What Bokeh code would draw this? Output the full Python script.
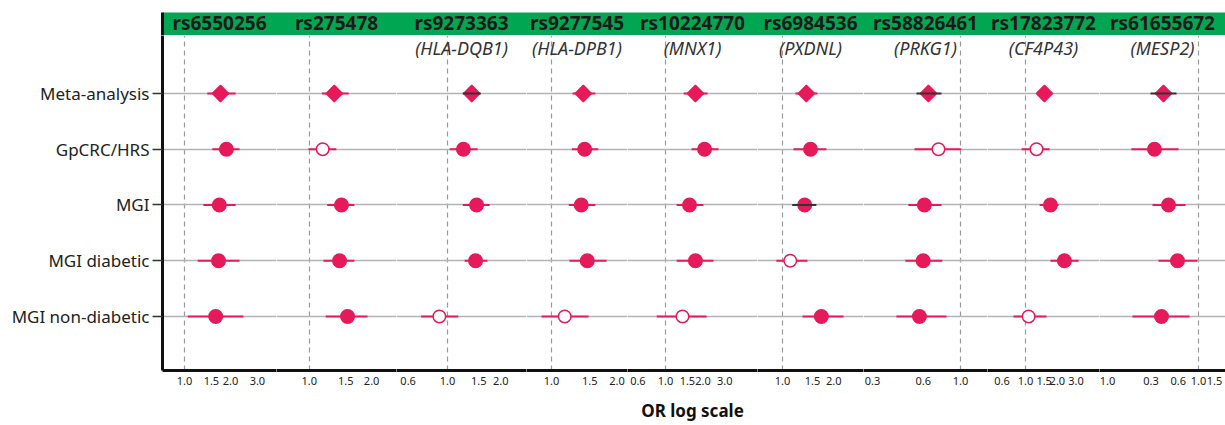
import math
from bokeh.plotting import figure
from bokeh.layouts import row, column
from bokeh.models import (ColumnDataSource, FixedTicker, PrintfTickFormatter,
                          Label, Range1d)
from bokeh.embed import file_html
from bokeh.resources import INLINE

# ---------------- data ----------------
snps = ["rs6550256", "rs275478", "rs9273363", "rs9277545", "rs10224770",
        "rs6984536", "rs58826461", "rs17823772", "rs61655672"]
genes = ["", "", "HLA-DQB1", "HLA-DPB1", "MNX1", "PXDNL", "PRKG1", "CF4P43", "MESP2"]
cohorts = ["Meta-analysis", "GpCRC/HRS", "MGI", "MGI diabetic", "MGI non-diabetic"]

# odds ratio and 95% CI, one value per SNP (same order as snps)
meta_or = [1.72, 1.32, 1.37, 1.40, 1.74, 1.38, 0.645, 1.51, 0.412]
meta_lo = [1.41, 1.15, 1.22, 1.25, 1.40, 1.19, 0.547, 1.33, 0.297]
meta_hi = [2.16, 1.55, 1.54, 1.59, 2.18, 1.60, 0.771, 1.76, 0.573]

gp_or = [1.88, 1.16, 1.23, 1.42, 2.06, 1.46, 0.74, 1.27, 0.328]
gp_lo = [1.52, 0.99, 1.03, 1.24, 1.62, 1.16, 0.533, 0.92, 0.183]
gp_hi = [2.29, 1.35, 1.48, 1.64, 2.67, 1.81, 1.01, 1.69, 0.603]

mgi_or = [1.69, 1.43, 1.46, 1.37, 1.56, 1.35, 0.61, 1.72, 0.468]
mgi_lo = [1.33, 1.22, 1.22, 1.20, 1.23, 1.14, 0.49, 1.36, 0.312]
mgi_hi = [2.16, 1.65, 1.73, 1.59, 2.02, 1.58, 0.771, 2.05, 0.720]

dia_or = [1.67, 1.40, 1.44, 1.46, 1.74, 1.11, 0.60, 2.33, 0.588]
dia_lo = [1.22, 1.17, 1.25, 1.21, 1.23, 0.92, 0.47, 1.72, 0.363]
dia_hi = [2.29, 1.65, 1.68, 1.79, 2.43, 1.40, 0.78, 3.17, 0.975]

non_or = [1.60, 1.53, 0.90, 1.15, 1.37, 1.69, 0.57, 1.07, 0.392]
non_lo = [1.05, 1.20, 0.71, 0.90, 0.85, 1.31, 0.416, 0.77, 0.188]
non_hi = [2.43, 1.91, 1.15, 1.48, 2.14, 2.28, 0.825, 1.58, 0.796]

# estimates whose CI is drawn dark
dark_ci = [("Meta-analysis", "rs9273363"), ("MGI", "rs6984536"),
           ("Meta-analysis", "rs58826461"), ("Meta-analysis", "rs61655672")]

# x tick values per panel
x_ticks = [[1.0, 1.5, 2.0, 3.0], [1.0, 1.5, 2.0], [0.6, 1.0, 1.5, 2.0], [1.0, 1.5, 2.0],
           [0.6, 1.0, 1.5, 2.0, 3.0], [1.0, 1.5, 2.0], [0.3, 0.6, 1.0],
           [0.6, 1.0, 1.5, 2.0, 3.0], [0.1, 0.3, 0.6, 1.0, 1.5]]
x_tick_overrides = {8: {0.1: "1.0"}}
axis_title = "OR log scale"

# ---------------- layout ----------------
x_domains = [(0.718, 4.00), (0.694, 2.638), (0.516, 2.790), (0.7675, 2.235), (0.495, 5.49),
             (0.713, 2.988), (0.265, 1.448), (0.4378, 4.996), (0.0816, 1.981)]
panel_widths = [114, 120, 130, 101, 130, 106, 124, 112, 126]
LEFT = 162
Y_RANGE = (-0.969, 5.040)
GENE_Y = 4.816
HEADER_Y = 0.565

PINK = "#E6195A"
DARK = "#333333"
GREEN = "#00A651"
FONT = "Noto Sans"

ors = [meta_or, gp_or, mgi_or, dia_or, non_or]
los = [meta_lo, gp_lo, mgi_lo, dia_lo, non_lo]
his = [meta_hi, gp_hi, mgi_hi, dia_hi, non_hi]

# ---------------- header band ----------------
total_w = sum(panel_widths)
hdr = figure(frame_width=total_w, frame_height=23, x_range=Range1d(0, total_w),
             y_range=Range1d(0, 1), x_axis_location=None, y_axis_location="left",
             output_backend="svg", toolbar_location=None,
             min_border_left=LEFT, min_border_right=0, min_border_top=12,
             min_border_bottom=0)
hdr.outline_line_color = None
hdr.background_fill_color = GREEN
hdr.xgrid.visible = False
hdr.ygrid.visible = False
hdr.yaxis.ticker = FixedTicker(ticks=[], minor_ticks=[])
hdr.yaxis.major_tick_out = 0
hdr.yaxis.major_tick_in = 0
hdr.yaxis.major_label_text_font_size = "0px"
hdr.yaxis.axis_line_width = 3
hdr.yaxis.axis_line_color = "#111111"
edge = 0
for k, snp in enumerate(snps):
    hdr.add_layout(Label(x=edge + panel_widths[k] / 2.0, y=HEADER_Y, text=snp,
                         text_align="center", text_baseline="middle",
                         text_font=FONT, text_font_style="bold",
                         text_font_size="19px", text_color="#1a1a1a"))
    edge += panel_widths[k]

# ---------------- panels ----------------
figs = []
for k, snp in enumerate(snps):
    lo_d, hi_d = x_domains[k]
    first = (k == 0)
    p = figure(frame_width=panel_widths[k], frame_height=335,
               x_axis_type="log", x_range=Range1d(lo_d, hi_d),
               y_range=Range1d(*Y_RANGE),
               y_axis_location="left" if first else None,
               output_backend="svg", toolbar_location=None,
               min_border_left=LEFT if first else 0, min_border_right=0,
               min_border_top=0, min_border_bottom=50)
    p.outline_line_color = None

    # grids: row lines and dashed OR=1 line
    p.xgrid.ticker = FixedTicker(ticks=[1.0])
    p.xgrid.grid_line_color = "#9a9a9a"
    p.xgrid.grid_line_dash = "5 4"
    p.xgrid.grid_line_width = 1.2
    p.ygrid.ticker = FixedTicker(ticks=[0, 1, 2, 3, 4])
    p.ygrid.grid_line_color = "#b3b3b3"
    p.ygrid.grid_line_width = 1.5

    # x axis
    p.xaxis.ticker = FixedTicker(ticks=x_ticks[k], minor_ticks=[])
    p.xaxis.formatter = PrintfTickFormatter(format="%.1f")
    if k in x_tick_overrides:
        p.xaxis.major_label_overrides = x_tick_overrides[k]
    p.xaxis.axis_line_width = 3
    p.xaxis.axis_line_color = "#111111"
    p.xaxis.major_tick_in = 0
    p.xaxis.major_tick_out = 0
    p.xaxis.minor_tick_line_color = None
    p.xaxis.major_label_standoff = 6
    p.xaxis.major_label_text_font = FONT
    p.xaxis.major_label_text_font_size = "11px"
    p.xaxis.major_label_text_color = "#222222"
    if k == 4:
        p.xaxis.axis_label = axis_title
        p.xaxis.axis_label_text_font = FONT
        p.xaxis.axis_label_text_font_style = "bold"
        p.xaxis.axis_label_text_font_size = "17px"
        p.xaxis.axis_label_text_color = "#111111"
        p.xaxis.axis_label_standoff = 11

    if first:
        p.yaxis.ticker = FixedTicker(ticks=[0, 1, 2, 3, 4], minor_ticks=[])
        p.yaxis.major_label_overrides = {4 - i: c for i, c in enumerate(cohorts)}
        p.yaxis.major_label_text_font = FONT
        p.yaxis.major_label_text_font_size = "17px"
        p.yaxis.major_label_text_color = "#222222"
        p.yaxis.axis_line_width = 3
        p.yaxis.axis_line_color = "#111111"
        p.yaxis.major_tick_out = 10
        p.yaxis.major_tick_in = 0
        p.yaxis.major_tick_line_width = 1.5
        p.yaxis.major_tick_line_color = "#333333"
        p.yaxis.minor_tick_line_color = None
        p.yaxis.major_label_standoff = 3

    pts = dict(y=[], orv=[], marker=[], angle=[], size=[], fill=[])
    seg_pink = dict(y=[], lo=[], hi=[])
    seg_dark = dict(y=[], lo=[], hi=[])
    for i, c in enumerate(cohorts):
        v, l, h = ors[i][k], los[i][k], his[i][k]
        y = 4 - i
        sig = (l > 1) or (h < 1)
        meta = (i == 0)
        pts["y"].append(y)
        pts["orv"].append(v)
        pts["marker"].append("square" if meta else "circle")
        pts["angle"].append(math.pi / 4 if meta else 0.0)
        pts["size"].append(11.5 if meta else (13.5 if sig else 12.5))
        pts["fill"].append(PINK if sig else "white")
        tgt = seg_dark if (c, snp) in dark_ci else seg_pink
        tgt["y"].append(y)
        tgt["lo"].append(l)
        tgt["hi"].append(h)

    p.segment(x0="lo", x1="hi", y0="y", y1="y", source=ColumnDataSource(seg_pink),
              line_color=PINK, line_width=2)
    p.scatter(x="orv", y="y", marker="marker", angle="angle", size="size",
              fill_color="fill", line_color=PINK, line_width=1.5,
              source=ColumnDataSource(pts))
    p.segment(x0="lo", x1="hi", y0="y", y1="y", source=ColumnDataSource(seg_dark),
              line_color=DARK, line_width=2)

    if genes[k]:
        p.add_layout(Label(x=math.sqrt(lo_d * hi_d), y=GENE_Y, text="(" + genes[k] + ")",
                           text_align="center", text_baseline="middle", text_font=FONT,
                           text_font_style="italic", text_font_size="18px",
                           text_color="#333333"))
    figs.append(p)

layout = column(hdr, row(*figs))
open("out.html", "w").write(file_html(layout, INLINE))
